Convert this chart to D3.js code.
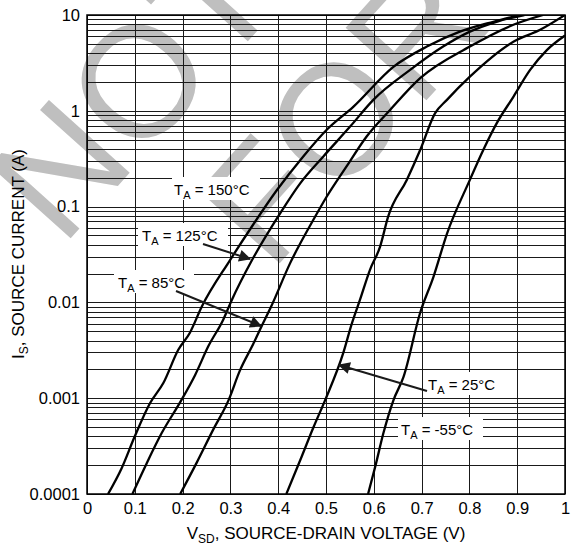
<!DOCTYPE html>
<html>
<head>
<meta charset="utf-8">
<script src="https://cdn.jsdelivr.net/npm/d3@7"></script>
<style>
  body { margin: 0; background: #fff; }
  svg { display: block; font-family: "Liberation Sans", Arial, sans-serif; }
</style>
</head>
<body>
<svg id="chart" width="571" height="547"></svg>
<script>
// values
const series = ['150', '125', '85', '25', '-55']

const v150 = [0.044, 0.0725, 0.100, 0.132, 0.160, 0.191, 0.215, 0.240, 0.299, 0.345, 0.397, 0.452, 0.501, 0.557, 0.641, 0.711, 0.780, 0.850, 0.906]
const i150 = [1e-4, 1.86e-4, 4.0e-4, 8.9e-4, 1.45e-3, 3.2e-3, 4.8e-3, 9.0e-3, 0.0275, 0.062, 0.148, 0.332, 0.63, 1.10, 2.88, 4.68, 6.7, 8.5, 10]

const v125 = [0.095, 0.125, 0.156, 0.195, 0.226, 0.254, 0.285, 0.303, 0.345, 0.404, 0.446, 0.494, 0.550, 0.599, 0.676, 0.745, 0.801, 0.860, 0.915]
const i125 = [1e-4, 2.1e-4, 4.3e-4, 9.1e-4, 1.74e-3, 3.5e-3, 6.6e-3, 0.0106, 0.0275, 0.085, 0.175, 0.332, 0.68, 1.30, 2.67, 4.68, 6.7, 8.6, 10]

const v85 = [0.195, 0.229, 0.264, 0.296, 0.320, 0.348, 0.365, 0.385, 0.425, 0.473, 0.501, 0.543, 0.585, 0.634, 0.697, 0.801, 0.892, 0.954]
const i85 = [1e-4, 2.1e-4, 4.7e-4, 9.5e-4, 1.95e-3, 3.7e-3, 5.6e-3, 9.0e-3, 0.0257, 0.072, 0.126, 0.263, 0.54, 1.02, 2.19, 4.68, 7.9, 10]

const v25 = [0.417, 0.449, 0.474, 0.498, 0.536, 0.554, 0.571, 0.592, 0.613, 0.630, 0.669, 0.697, 0.728, 0.753, 0.801, 0.892, 0.948, 1.0]
const i25 = [1e-4, 2.45e-4, 5.0e-4, 9.5e-4, 2.95e-3, 6.0e-3, 0.0106, 0.0219, 0.038, 0.0785, 0.19, 0.39, 0.94, 1.30, 2.27, 5.25, 7.0, 10]

const vm55 = [0.588, 0.603, 0.620, 0.641, 0.662, 0.697, 0.725, 0.753, 0.801, 0.829, 0.857, 0.892, 0.927, 0.962, 1.0]
const im55 = [1e-4, 1.93e-4, 4.3e-4, 9.5e-4, 1.66e-3, 7.8e-3, 0.0186, 0.052, 0.19, 0.39, 0.74, 1.40, 2.67, 4.3, 6.1]

const xTicks = [0, 0.1, 0.2, 0.3, 0.4, 0.5, 0.6, 0.7, 0.8, 0.9, 1]
const xTickLabels = ['0', '0.1', '0.2', '0.3', '0.4', '0.5', '0.6', '0.7', '0.8', '0.9', '1']
const yTicks = [0.0001, 0.001, 0.01, 0.1, 1, 10]
const yTickLabels = ['0.0001', '0.001', '0.01', '0.1', '1', '10']

const curveV = [v150, v125, v85, v25, vm55]
const curveI = [i150, i125, i85, i25, im55]

const W = 571, H = 547
const margin = {left: 87, right: 6, top: 15, bottom: 53}
const plotW = W - margin.left - margin.right
const plotH = H - margin.top - margin.bottom

const svg = d3.select('#chart')

const x = d3.scaleLinear().domain([0, 1]).range([margin.left, margin.left + plotW])
const y = d3.scaleLog().domain([0.0001, 10]).range([margin.top + plotH, margin.top])

svg.append('clipPath').attr('id', 'pageclip')
  .append('rect').attr('x', 0).attr('y', 0).attr('width', W).attr('height', H)

// watermark behind grid
const wm = svg.append('g')
  .attr('clip-path', 'url(#pageclip)')
  .attr('fill', '#bfbfbf').style('font-size', '158px')
wm.append('text').attr('transform', 'translate(62,248) rotate(-48)').text('NOT')
wm.append('text').attr('transform', 'translate(271,273) rotate(-48)').text('FOR NEW')

svg.append('clipPath').attr('id', 'plotclip')
  .append('rect')
  .attr('x', margin.left).attr('y', margin.top)
  .attr('width', plotW).attr('height', plotH)

// horizontal grid: decades and minors
const hLines = []
for (let d = -4; d < 1; d++) {
  for (let k = 1; k < 10; k++) hLines.push(k * Math.pow(10, d))
}
hLines.push(10)

const grid = svg.append('g').attr('stroke', '#1a1a1a').attr('stroke-width', 1)
grid.selectAll('line.h')
  .data(hLines)
  .enter().append('line')
    .attr('class', 'h')
    .attr('x1', x(0)).attr('x2', x(1))
    .attr('y1', d => Math.round(y(d)) + 0.5)
    .attr('y2', d => Math.round(y(d)) + 0.5)

grid.selectAll('line.v')
  .data(xTicks)
  .enter().append('line')
    .attr('class', 'v')
    .attr('x1', d => Math.round(x(d)) + 0.5)
    .attr('x2', d => Math.round(x(d)) + 0.5)
    .attr('y1', y(10)).attr('y2', y(0.0001))

svg.append('rect')
  .attr('x', margin.left).attr('y', margin.top)
  .attr('width', plotW).attr('height', plotH)
  .attr('fill', 'none').attr('stroke', '#000').attr('stroke-width', 1.5)

// axes (labels only)
const xAxis = d3.axisBottom(x).tickValues(xTicks).tickSize(0).tickPadding(8)
  .tickFormat((d, i) => xTickLabels[i])
svg.append('g')
  .attr('transform', `translate(0,${margin.top + plotH})`)
  .call(xAxis)
  .call(g => g.select('.domain').remove())
  .call(g => g.selectAll('text').attr('fill', '#000').style('font-size', '16.5px').style('font-family', 'Liberation Sans, Arial, sans-serif'))

const yAxis = d3.axisLeft(y).tickValues(yTicks).tickSize(0).tickPadding(7)
  .tickFormat((d, i) => yTickLabels[i])
svg.append('g')
  .attr('transform', `translate(${margin.left},0)`)
  .call(yAxis)
  .call(g => g.select('.domain').remove())
  .call(g => g.selectAll('text').attr('fill', '#000').style('font-size', '16.5px').style('font-family', 'Liberation Sans, Arial, sans-serif'))

// curves
const line = d3.line()
  .x(d => x(d[0]))
  .y(d => y(d[1]))
  .curve(d3.curveMonotoneX)

svg.append('g').attr('clip-path', 'url(#plotclip)')
  .selectAll('path')
  .data(series.map((s, k) => curveV[k].map((v, j) => [v, curveI[k][j]])))
  .enter().append('path')
    .attr('d', line)
    .attr('fill', 'none')
    .attr('stroke', '#000')
    .attr('stroke-width', 2.3)
    .attr('stroke-linejoin', 'round')

// annotation labels with white boxes
svg.append('defs').append('marker')
  .attr('id', 'arrow')
  .attr('viewBox', '0 0 10 10')
  .attr('refX', 9).attr('refY', 5)
  .attr('markerWidth', 7).attr('markerHeight', 6)
  .attr('markerUnits', 'strokeWidth')
  .attr('orient', 'auto')
  .append('path').attr('d', 'M0,0 L10,5 L0,10 z').attr('fill', '#1a1a1a')

const labels = [
  {t: '150', box: [172, 177, 88, 23], tx: 174, ty: 195},
  {t: '125', box: [138, 223, 90, 23], tx: 142, ty: 241},
  {t: '85',  box: [114, 270, 80, 23], tx: 118, ty: 288},
  {t: '25',  box: [425, 372, 84, 23], tx: 428, ty: 390},
  {t: '-55', box: [398, 417, 85, 23], tx: 401, ty: 435}
]
const arrows = [
  [203, 244, 250, 259],
  [176, 291, 261, 326],
  [427, 391, 339, 365]
]

const lab = svg.append('g')
labels.forEach(l => {
  lab.append('rect')
    .attr('x', l.box[0]).attr('y', l.box[1])
    .attr('width', l.box[2]).attr('height', l.box[3])
    .attr('fill', '#fff')
  const t = lab.append('text')
    .attr('x', l.tx).attr('y', l.ty)
    .style('font-size', '15px')
  t.append('tspan').text('T')
  t.append('tspan').attr('dy', 4).style('font-size', '11px').text('A')
  t.append('tspan').attr('dy', -4).text(' = ' + l.t + '°C')
})

lab.selectAll('line')
  .data(arrows)
  .enter().append('line')
    .attr('x1', d => d[0]).attr('y1', d => d[1])
    .attr('x2', d => d[2]).attr('y2', d => d[3])
    .attr('stroke', '#1a1a1a')
    .attr('stroke-width', 2)
    .attr('marker-end', 'url(#arrow)')

// axis titles
const xt = svg.append('text')
  .attr('x', 326).attr('y', 539)
  .attr('text-anchor', 'middle')
  .style('font-size', '17px')
xt.append('tspan').text('V')
xt.append('tspan').attr('dy', 4).style('font-size', '12px').text('SD')
xt.append('tspan').attr('dy', -4).text(', SOURCE-DRAIN VOLTAGE (V)')

const yt = svg.append('text')
  .attr('transform', 'translate(24,254) rotate(-90)')
  .attr('text-anchor', 'middle')
  .style('font-size', '17px')
yt.append('tspan').text('I')
yt.append('tspan').attr('dy', 4).style('font-size', '12px').text('S')
yt.append('tspan').attr('dy', -4).text(', SOURCE CURRENT (A)')
</script>
</body>
</html>
